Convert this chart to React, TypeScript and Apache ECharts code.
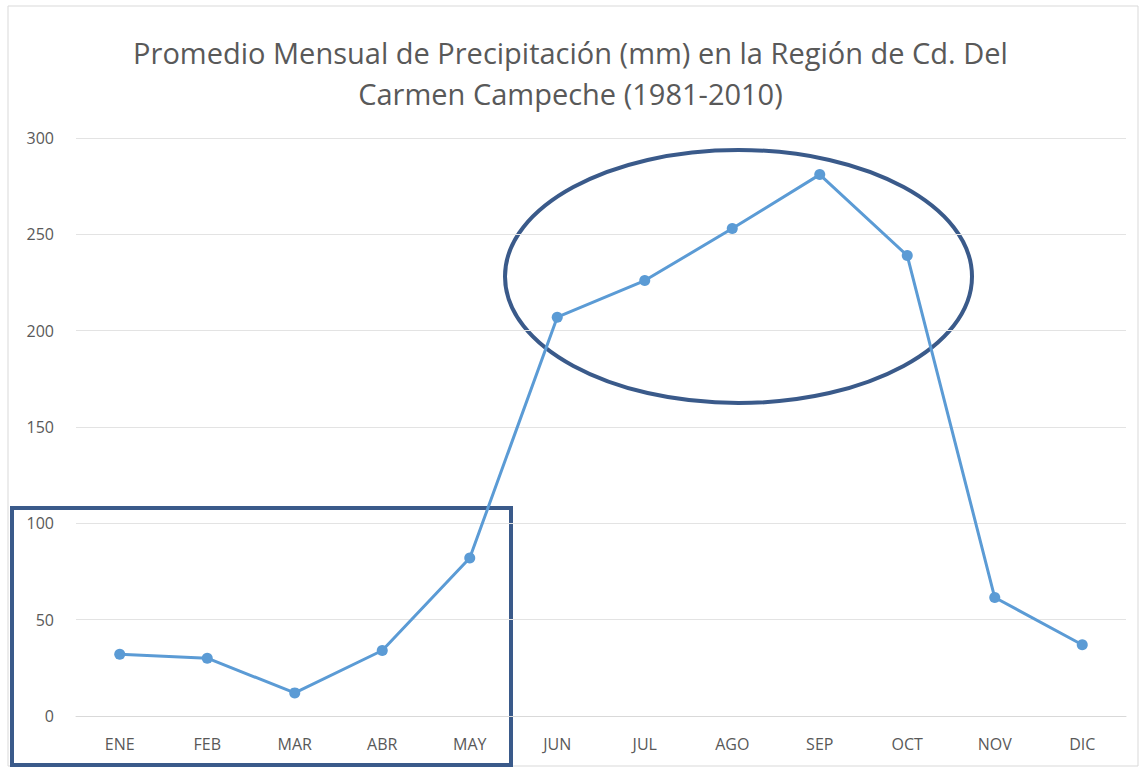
import React, { useEffect, useRef } from "react";
import * as echarts from "echarts";

const months = ["ENE", "FEB", "MAR", "ABR", "MAY", "JUN", "JUL", "AGO", "SEP", "OCT", "NOV", "DIC"];
const precipitation = [32, 30, 12, 34, 82, 207, 226, 253, 281, 239, 61.5, 37];
const yTicks = { min: 0, max: 300, interval: 50 };
const titleText = "Promedio Mensual de Precipitación (mm) en la Región de Cd. Del\nCarmen Campeche (1981-2010)";

export default function App() {
  const ref = useRef<HTMLDivElement>(null);
  useEffect(() => {
    if (!ref.current) return;
    const chart = echarts.init(ref.current, null, { renderer: "svg" });
    const font = "'Open Sans', 'Noto Sans', sans-serif";
    chart.setOption({
      animation: false,
      backgroundColor: "#ffffff",
      title: {
        text: titleText,
        left: "center",
        top: 27,
        textStyle: {
          color: "#595959",
          fontSize: 29,
          fontWeight: "normal",
          fontFamily: font,
          lineHeight: 41,
        },
      },
      grid: { left: 76, right: 15, top: 138, bottom: 52, containLabel: false },
      xAxis: {
        type: "category",
        data: months,
        boundaryGap: true,
        axisLine: { show: true, lineStyle: { color: "#d9d9d9" } },
        axisTick: { show: false },
        axisLabel: { color: "#595959", fontSize: 16, fontFamily: font, margin: 20 },
      },
      yAxis: {
        type: "value",
        min: yTicks.min,
        max: yTicks.max,
        interval: yTicks.interval,
        axisLine: { show: false },
        axisTick: { show: false },
        axisLabel: { color: "#595959", fontSize: 16, fontFamily: font, margin: 22 },
        splitLine: { lineStyle: { color: "#e3e3e3", width: 1 } },
      },
      series: [
        {
          type: "line",
          data: precipitation,
          symbol: "circle",
          symbolSize: 11,
          lineStyle: { color: "#5B9BD5", width: 3 },
          itemStyle: { color: "#5B9BD5" },
        },
      ],
      graphic: [
        {
          type: "rect",
          shape: { x: 8, y: 6, width: 1130, height: 760 },
          style: { fill: "none", stroke: "#d9d9d9", lineWidth: 1 },
          silent: true,
        },
        {
          type: "ellipse",
          shape: { cx: 738.5, cy: 276.5, rx: 233.5, ry: 126.5 },
          style: { fill: "none", stroke: "#3A5A8A", lineWidth: 4 },
          silent: true,
        },
        {
          type: "rect",
          shape: { x: 12, y: 508, width: 499, height: 257 },
          style: { fill: "none", stroke: "#3A5A8A", lineWidth: 4 },
          silent: true,
        },
      ],
    });
    return () => chart.dispose();
  }, []);
  return (
    <div
      ref={ref}
      style={{ position: "absolute", left: 0, top: 0, width: 1141, height: 768 }}
    />
  );
}
